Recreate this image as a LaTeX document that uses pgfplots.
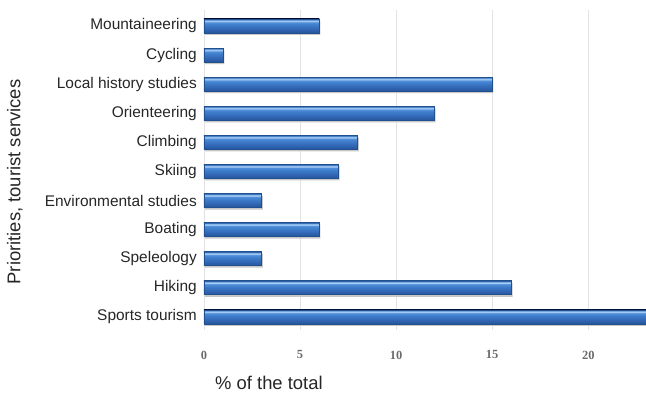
\documentclass[border=0pt]{standalone}
\usepackage{pgfplots}
\pgfplotsset{compat=1.18}
\usepackage{fontspec}
\setmainfont{Liberation Sans}
\newfontfamily\tickfont{Liberation Serif}

\definecolor{gridgray}{HTML}{E2E2E2}
\definecolor{barEdge}{HTML}{21508F}
\definecolor{tickgray}{HTML}{6A6A6A}

% cylinder-like bar fill: dark lower rim, mid blue body, light highlight near the top
\pgfdeclareverticalshading{barshade}{100bp}{%
  color(0bp)=(barEdge);
  color(25bp)=(barEdge);
  color(28bp)=(rgb,255:red,40;green,88;blue,160);
  color(40bp)=(rgb,255:red,50;green,104;blue,182);
  color(55bp)=(rgb,255:red,63;green,126;blue,204);
  color(63bp)=(rgb,255:red,80;green,143;blue,218);
  color(67bp)=(rgb,255:red,168;green,204;blue,242);
  color(70bp)=(rgb,255:red,140;green,185;blue,234);
  color(73bp)=(rgb,255:red,63;green,120;blue,198);
  color(75bp)=(barEdge);
  color(100bp)=(barEdge)}

\pgfplotsset{
  cyl/.style={xbar, bar shift=0pt, draw=barEdge, line width=0.6pt,
    shade, shading=barshade},
}

\begin{document}
\begin{tikzpicture}
\begin{axis}[
  scale only axis,
  width=442bp, height=320bp,
  at={(0,0)}, anchor=south west,
  xmin=0, xmax=23,
  ymin=-0.45, ymax=10.55,
  axis line style={draw=none},
  major tick length=0pt,
  xtick={0,5,10,15,20},
  xmajorgrids,
  grid style={gridgray, line width=0.8pt},
  ytick={0,...,10},
  yticklabels={Sports tourism, Hiking, Speleology, Boating, Environmental studies,
    Skiing, Climbing, Orienteering, Local history studies, Cycling, Mountaineering},
  yticklabel style={font=\fontsize{15.5}{16}\selectfont, text=black!85,
    anchor=east, inner sep=0pt, xshift=-7bp},
  /pgf/number format/assume math mode=true,
  xticklabel style={font=\tickfont\bfseries\fontsize{12.5}{12.5}\selectfont, text=tickgray,
    anchor=center, yshift=-25bp},
  xlabel={\% of the total},
  xlabel style={font=\fontsize{18.5}{20}\selectfont, text=black!85,
    at={(axis description cs:0.147,-0.1656)}, anchor=center},
  ylabel={Priorities, tourist services},
  ylabel style={font=\fontsize{18.5}{20}\selectfont, text=black!85,
    at={(axis description cs:-0.4276,0.4625)}, anchor=center},
  bar width=14bp,
]
% soft shadow under each bar
\addplot[xbar, bar shift=-2bp, xshift=1.2bp, draw=none, fill=black!22]
  coordinates {(23,0) (16,1) (3,2) (6,3) (3,4) (7,5) (8,6) (12,7) (15,8) (1,9) (6,10)};
% one plot per bar, so that every bar gets its own shading
\addplot[cyl] coordinates {(23,0)};  % Sports tourism
\addplot[cyl] coordinates {(16,1)};  % Hiking
\addplot[cyl] coordinates {(3,2)};   % Speleology
\addplot[cyl] coordinates {(6,3)};   % Boating
\addplot[cyl] coordinates {(3,4)};   % Environmental studies
\addplot[cyl] coordinates {(7,5)};   % Skiing
\addplot[cyl] coordinates {(8,6)};   % Climbing
\addplot[cyl] coordinates {(12,7)};  % Orienteering
\addplot[cyl] coordinates {(15,8)};  % Local history studies
\addplot[cyl] coordinates {(1,9)};   % Cycling
\addplot[cyl] coordinates {(6,10)};  % Mountaineering
\end{axis}
\path[use as bounding box] (-204bp,-61bp) rectangle (442bp,330bp);
\end{tikzpicture}
\end{document}
